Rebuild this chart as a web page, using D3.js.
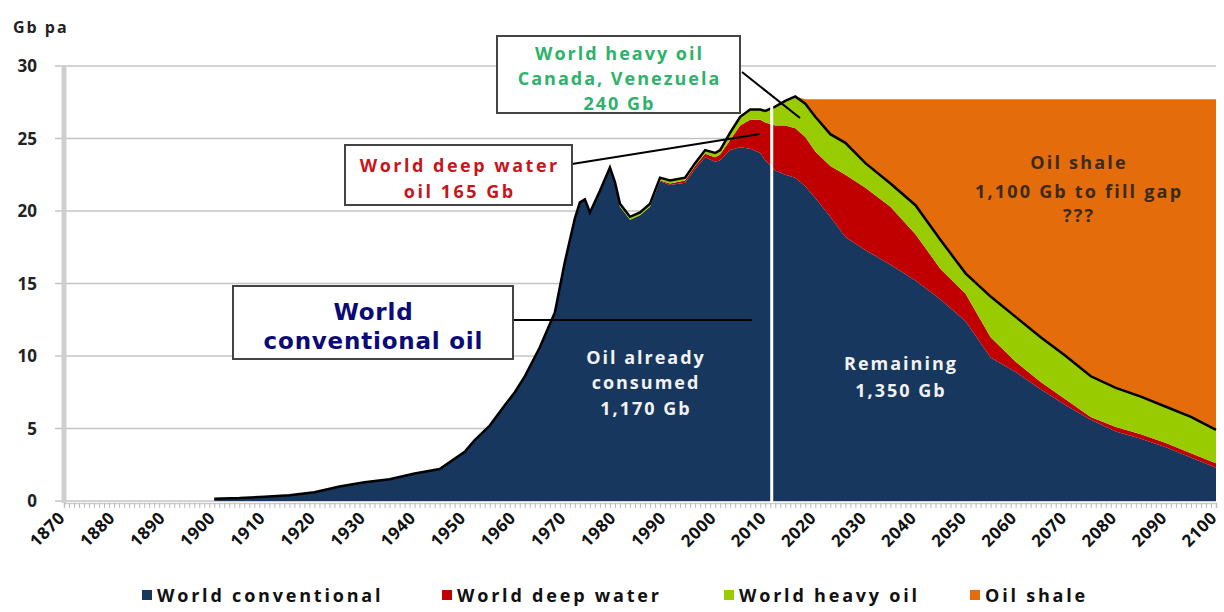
<!DOCTYPE html>
<meta charset="utf-8">
<html>
<head>
<script src="https://d3js.org/d3.v7.min.js"></script>
<style>
  body { margin: 0; background: #fff; }
  text { font-family: "Open Sans", "DejaVu Sans", sans-serif; font-weight: bold; }
</style>
</head>
<body>
<div id="viz"></div>
<script>
// years
const years = [1900,1905,1910,1915,1920,1925,1930,1935,1940,1945,1950,1952,1955,1958,1960,1962,1965,1967,1968,1970,
  1972,1973,1974,1975,1977,1979,1980,1981,1983,1985,1987,1989,1991,1994,1996,1998,2000,2001,2003,2005,2007,2009,2010,
  2012,2014,2016,2018,2020,2023,2026,2030,2035,2040,2045,2050,2055,2060,2065,2070,2075,2080,2085,2090,2095,2100];

// Gb per annum, per series
const conventional = [0.15,0.2,0.3,0.4,0.6,1.0,1.3,1.5,1.9,2.2,3.4,4.2,5.2,6.6,7.5,8.6,10.6,12.2,13.0,16.5,
  19.5,20.6,20.8,19.8,21.3,22.9,21.9,20.3,19.4,19.7,20.3,22.05,21.8,21.95,22.9,23.7,23.4,23.5,24.2,24.4,24.3,24.0,23.5,
  22.8,22.5,22.3,21.7,20.9,19.6,18.2,17.3,16.3,15.2,13.9,12.4,9.9,8.9,7.7,6.6,5.6,4.8,4.3,3.7,3.0,2.3];
const deepWater = [0,0,0,0,0,0,0,0,0,0,0,0,0,0,0,0,0,0,0,0,
  0,0,0,0,0,0,0,0,0,0,0,0.05,0.1,0.15,0.2,0.25,0.3,0.4,0.7,1.5,2.0,2.3,2.6,
  3.1,3.4,3.4,3.4,3.2,3.5,4.3,4.3,4.0,3.2,2.1,1.9,1.4,0.7,0.5,0.4,0.2,0.3,0.3,0.3,0.3,0.3];
const heavyOil = [0,0,0,0,0,0,0,0,0,0,0,0,0,0,0,0,0,0,0,0,
  0,0,0,0.1,0.1,0.1,0.1,0.2,0.2,0.2,0.2,0.2,0.2,0.2,0.2,0.25,0.3,0.3,0.5,0.6,0.7,0.7,0.8,
  1.3,1.7,2.2,2.3,2.4,2.2,2.2,1.7,1.6,2.0,2.0,1.4,2.8,3.1,3.1,3.0,2.8,2.7,2.6,2.5,2.5,2.3];
const oilShale = [0,0,0,0,0,0,0,0,0,0,0,0,0,0,0,0,0,0,0,0,
  0,0,0,0,0,0,0,0,0,0,0,0,0,0,0,0,0,0,0,0,0,0,0,
  0,0,0,0.3,1.2,2.4,3.0,4.4,5.8,7.3,9.7,12.0,13.6,15.0,16.4,17.7,19.1,19.9,20.5,21.2,21.9,22.8];

const yTicks = [0,5,10,15,20,25,30];
const xLabels = d3.range(1870, 2101, 10);
const seriesNames = ["World conventional","World deep water","World heavy oil","Oil shale"];
const seriesColors = ["#17375e","#c00000","#99cc00","#e46c0a"];
const nowYear = 2011.3;

const W = 1224, H = 612;
const svg = d3.select("#viz").append("svg").attr("width", W).attr("height", H);

const x = d3.scaleLinear().domain([1870, 2100]).range([64, 1216]);
const y = d3.scaleLinear().domain([0, 30]).range([501, 66]);

// gridlines
svg.append("g").selectAll("line").data(yTicks).join("line")
  .attr("x1", 55).attr("x2", 1216)
  .attr("y1", d => y(d)).attr("y2", d => y(d))
  .attr("stroke", "#c4c4c4").attr("stroke-width", 1.5);

svg.append("g").selectAll("text").data(yTicks).join("text")
  .attr("x", 37).attr("y", d => y(d) + 6)
  .attr("text-anchor", "end").attr("font-size", 17).attr("fill", "#222")
  .text(d => d);

svg.append("text").attr("x", 13).attr("y", 33).attr("font-size", 16)
  .attr("letter-spacing", 2).attr("fill", "#222").text("Gb pa");

// stacked areas
const rows = years.map((yr, i) => ({year: yr, c: conventional[i], d: deepWater[i], h: heavyOil[i], s: oilShale[i]}));
const stack = d3.stack().keys(["c","d","h","s"])(rows);
const area = d3.area().x(d => x(d.data.year)).y0(d => y(d[0])).y1(d => y(d[1]));

svg.append("g").selectAll("path").data(stack).join("path")
  .attr("d", area).attr("fill", (d, i) => seriesColors[i]);

// y axis bar
svg.append("line").attr("x1", 64).attr("x2", 64).attr("y1", y(30)).attr("y2", y(0) + 2)
  .attr("stroke", "#cfcfcf").attr("stroke-width", 5);

// black total line
const totalLine = d3.line().x(d => x(d.data.year)).y(d => y(d[1]));
svg.append("path").datum(stack[2]).attr("d", totalLine)
  .attr("fill", "none").attr("stroke", "#000").attr("stroke-width", 2.5);

// x axis with yearly ticks
const xAxis = svg.append("g").attr("transform", `translate(0,${y(0) + 2})`)
  .call(d3.axisBottom(x).tickValues(d3.range(1870, 2101, 1)).tickSize(5).tickFormat(""));
xAxis.select(".domain").attr("stroke", "#ccc").attr("stroke-width", 1.5);
xAxis.selectAll(".tick line").attr("stroke", "#bbb");

svg.append("g").selectAll("text").data(xLabels).join("text")
  .attr("transform", d => `translate(${x(d) + 2},${y(0) + 18}) rotate(-45)`)
  .attr("text-anchor", "end").attr("font-size", 17).attr("letter-spacing", 0.5).attr("fill", "#111")
  .text(d => d);

// "now" divider
svg.append("line").attr("x1", x(nowYear)).attr("x2", x(nowYear))
  .attr("y1", y(27.6)).attr("y2", y(0) + 2)
  .attr("stroke", "#fff").attr("stroke-width", 3);

// pointer lines
const pointers = [
  [742, 72, 800, 118],
  [572, 164, 760, 134],
  [513, 320, 752, 320]
];
svg.append("g").selectAll("line").data(pointers).join("line")
  .attr("x1", d => d[0]).attr("y1", d => d[1]).attr("x2", d => d[2]).attr("y2", d => d[3])
  .attr("stroke", "#000").attr("stroke-width", 2);

// annotation boxes
function box(x0, y0, w, h, lines, color, size, family, lh, ls) {
  svg.append("rect").attr("x", x0).attr("y", y0).attr("width", w).attr("height", h)
    .attr("fill", "#fff").attr("stroke", "#444").attr("stroke-width", 2);
  const t = svg.append("text").attr("text-anchor", "middle").attr("fill", color)
    .attr("font-size", size).attr("letter-spacing", ls).style("font-family", family);
  lines.forEach((l, i) => t.append("tspan").attr("x", x0 + w / 2 + ls / 2)
    .attr("y", y0 + lh * 0.9 + i * lh + (h - lh * lines.length) / 2).text(l));
}
box(497, 36, 243, 77, ["World heavy oil", "Canada, Venezuela", "240 Gb"], "#2db26a", 18, "Open Sans", 25, 2);
box(345, 145, 227, 60, ["World deep water", "oil  165 Gb"], "#c8151b", 18, "Open Sans", 26, 2.5);
box(233, 286, 280, 73, ["World", "conventional oil"], "#0a0a78", 23, "DejaVu Sans", 29, 0.8);

function label(cx, ys, lines, color, size, ls) {
  const t = svg.append("text").attr("text-anchor", "middle").attr("fill", color)
    .attr("font-size", size).attr("letter-spacing", ls);
  lines.forEach((l, i) => t.append("tspan").attr("x", cx + ls / 2).attr("y", ys[i]).text(l));
}
label(645, [364, 389, 415], ["Oil already", "consumed", "1,170 Gb"], "#f2f2f2", 18, 2);
label(900, [370, 397], ["Remaining", "1,350 Gb"], "#f2f2f2", 18, 2);
label(1078, [169, 198, 222], ["Oil shale", "1,100 Gb to fill gap", "???"], "#3a2a1a", 18, 2.2);

// legend
const legendX = [142, 442, 724, 970];
const lg = svg.append("g").selectAll("g").data(seriesNames).join("g")
  .attr("transform", (d, i) => `translate(${legendX[i]},602)`);
lg.append("rect").attr("x", 0).attr("y", -12).attr("width", 10).attr("height", 10)
  .attr("fill", (d, i) => seriesColors[i]);
lg.append("text").attr("x", 15).attr("y", 0).attr("font-size", 18).attr("letter-spacing", 2.8)
  .attr("fill", "#111").text(d => d);
</script>
</body>
</html>
